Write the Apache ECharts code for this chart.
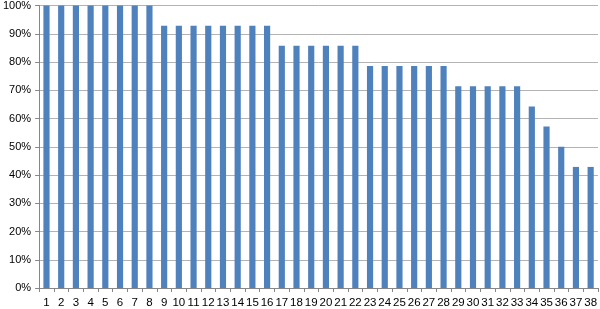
<!DOCTYPE html>
<html><head><meta charset="utf-8">
<script src="https://cdn.jsdelivr.net/npm/echarts@6/dist/echarts.min.js"></script>
<style>html,body{margin:0;padding:0;background:#fff}#c{width:600px;height:309px}</style>
</head><body><div id="c"></div>
<script>
const categories = ["1","2","3","4","5","6","7","8","9","10","11","12","13","14","15","16","17","18","19","20","21","22","23","24","25","26","27","28","29","30","31","32","33","34","35","36","37","38"];
const values = [100,100,100,100,100,100,100,100,92.86,92.86,92.86,92.86,92.86,92.86,92.86,92.86,85.71,85.71,85.71,85.71,85.71,85.71,78.57,78.57,78.57,78.57,78.57,78.57,71.43,71.43,71.43,71.43,71.43,64.29,57.14,50,42.86,42.86];
const chart = echarts.init(document.getElementById('c'));
chart.setOption({
  animation: false,
  grid: {left: 37, right: 1, top: 5, bottom: 20},
  xAxis: {
    type: 'category', data: categories,
    axisLine: {lineStyle: {color: '#868686'}},
    axisTick: {show: true, alignWithLabel: false, length: 4, lineStyle: {color: '#868686'}},
    axisLabel: {color: '#000', fontSize: 11.5, fontFamily: 'Liberation Sans', margin: 9, interval: 0}
  },
  yAxis: {
    type: 'value', min: 0, max: 100, interval: 10,
    axisLine: {show: true, lineStyle: {color: '#868686'}},
    axisTick: {show: true, length: 4, lineStyle: {color: '#868686'}},
    splitLine: {lineStyle: {color: '#b3b3b3'}},
    axisLabel: {color: '#000', fontSize: 11, fontFamily: 'Liberation Sans', margin: 8, formatter: '{value}%'}
  },
  series: [{
    type: 'bar', data: values, barCategoryGap: '58%',
    itemStyle: {color: '#4F81BD'}
  }]
});
</script></body></html>
